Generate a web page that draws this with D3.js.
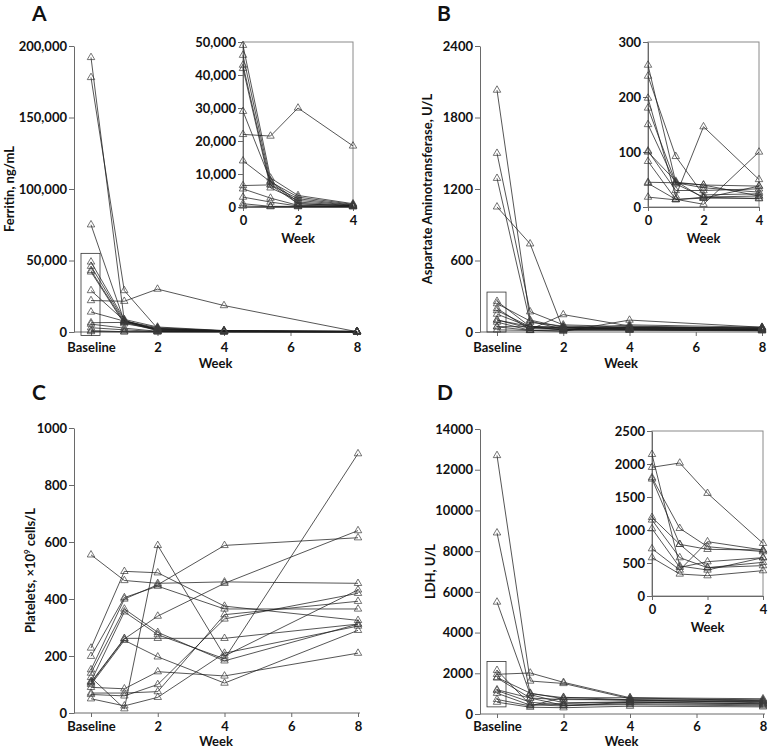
<!DOCTYPE html>
<html><head><meta charset="utf-8">
<script src="https://cdn.jsdelivr.net/npm/d3@7"></script>
<style>
body{margin:0;background:#fff}
svg{display:block}
text{font-family:Lato,"Open Sans","DejaVu Sans",sans-serif;font-weight:700;fill:#111}
</style>
</head><body>
<svg id="c" width="769" height="749"></svg>
<script>
// ---------- data ----------
const weeks = [0, 1, 2, 4, 8];
const insetWeeks = [0, 1, 2, 4];
const mainXTicks = [0, 2, 4, 6, 8];
const insetXTicks = [0, 2, 4];
const baselineLabel = "Baseline";
const weekLabel = "Week";

// Ferritin, ng/mL (per patient: baseline, wk1, wk2, wk4, wk8)
const ferritin = [
  [192000, 8000, 2000, 1000, 500],
  [178000, 29000, 2500, 800, 300],
  [75000, 7500, 1500, 500, 200],
  [49000, 8800, 3500, 1000, 500],
  [46000, 7600, 3000, 800, 400],
  [43000, 6700, 2500, 600, 300],
  [42000, 5800, 2000, 500, 200],
  [29000, 8000, 1500, 400, 200],
  [22000, 21500, 30000, 18500, 200],
  [14000, 7600, 1000, 300, 100],
  [6500, 6700, 1000, 400, 200],
  [5500, 2700, 500, 300, 100],
  [3000, 1500, 300, 200, 100],
  [1000, 200, 200, 100, 100],
  [300, 100, 100, 100, 50]
];
const ferritinTicks = [0, 50000, 100000, 150000, 200000];
const ferritinInsetTicks = [0, 10000, 20000, 30000, 40000, 50000];

// Aspartate aminotransferase, U/L
const ast = [
  [2030, 100, 40, 30, 20],
  [1500, 170, 60, 45, 30],
  [1290, 80, 50, 35, 25],
  [1050, 740, 20, 60, 40],
  [258, 45, 40, 20, 15],
  [238, 92, 22, 24, 20],
  [198, 20, 146, 50, 30],
  [180, 44, 35, 27, 20],
  [150, 42, 18, 20, 15],
  [102, 30, 30, 33, 25],
  [100, 47, 16, 38, 35],
  [83, 14, 5, 100, 40],
  [45, 44, 40, 38, 35],
  [43, 14, 16, 16, 12],
  [18, 13, 18, 15, 10]
];
const astTicks = [0, 600, 1200, 1800, 2400];
const astInsetTicks = [0, 100, 200, 300];

// Platelets, x10^9 cells/L
const platelets = [
  [555, 465, 455, 460, 455],
  [228, 497, 492, 375, 325],
  [199, 405, 445, 365, 365],
  [152, 400, 450, 588, 615],
  [140, 365, 283, 183, 312],
  [111, 355, 275, 190, 910],
  [105, 260, 340, 455, 640],
  [100, 255, 197, 105, 290],
  [90, 85, 145, 130, 210],
  [70, 70, 75, 345, 392],
  [65, 60, 100, 330, 420],
  [50, 25, 55, 210, 305],
  [125, 15, 588, 200, 432],
  [108, 262, 262, 262, 312]
];
const plateletTicks = [0, 200, 400, 600, 800, 1000];

// LDH, U/L
const ldh = [
  [12700, 1620, 1500, 750, 700],
  [8900, 1000, 800, 800, 750],
  [5500, 950, 550, 600, 600],
  [2146, 455, 394, 581, 500],
  [1950, 2015, 1556, 798, 650],
  [1793, 1025, 747, 672, 600],
  [1773, 783, 707, 697, 550],
  [1192, 783, 429, 510, 450],
  [1152, 581, 429, 460, 400],
  [1020, 434, 520, 581, 500],
  [717, 394, 823, 697, 650],
  [581, 333, 308, 384, 350]
];
const ldhTicks = [0, 2000, 4000, 6000, 8000, 10000, 12000, 14000];
const ldhInsetTicks = [0, 500, 1000, 1500, 2000, 2500];

// ---------- drawing ----------
const svg = d3.select("#c");
const comma = d3.format(",");
const plain = d3.format("d");
const AX = "#6a6a6a", BOX = "#8a8a8a", LINE = "#1e1e1e", MARK = "#3a3a3a";

function styleAxis(sel, fs) {
  sel.selectAll(".domain").attr("stroke", AX).attr("stroke-width", 1);
  sel.selectAll(".tick line").attr("stroke", AX);
  sel.selectAll(".tick text").attr("font-size", fs).attr("font-family", "Lato, 'Open Sans', sans-serif").attr("font-weight", 700).attr("fill", "#111");
}

function drawSeries(g, x, y, data, wks) {
  const line = d3.line().defined(d => d[1] != null).x(d => x(d[0])).y(d => y(d[1]));
  data.forEach(s => {
    const pts = wks.map((w, i) => [w, s[i]]);
    g.append("path").attr("d", line(pts)).attr("fill", "none").attr("stroke", LINE).attr("stroke-width", 0.75);
  });
  const sym = d3.symbol().type(d3.symbolTriangle).size(24);
  data.forEach(s => {
    wks.forEach((w, i) => {
      if (s[i] == null) return;
      g.append("path").attr("d", sym()).attr("transform", `translate(${x(w)},${y(s[i])})`)
        .attr("fill", "none").attr("stroke", MARK).attr("stroke-width", 0.7);
    });
  });
}

function drawPanel(p) {
  const g = svg.append("g");
  const x = d3.scaleLinear().domain([0, 8]).range([p.x0, p.x8]);
  const y = d3.scaleLinear().domain([0, p.max]).range([p.yBot, p.yTop]);

  g.append("text").attr("x", p.lx).attr("y", p.ly).attr("font-size", 21).text(p.letter);

  const ya = g.append("g").attr("transform", `translate(${p.axisX},0)`)
    .call(d3.axisLeft(y).tickValues(p.ticks).tickFormat(p.fmt).tickSize(5).tickPadding(2).tickSizeOuter(0));
  styleAxis(ya, 13);

  const xa = g.append("g").attr("transform", `translate(0,${p.yBot})`)
    .call(d3.axisBottom(x).tickValues(mainXTicks).tickFormat(d => d === 0 ? baselineLabel : d).tickSize(4).tickPadding(p.tickPad).tickSizeOuter(0));
  xa.select(".domain").remove();
  styleAxis(xa, 13);
  g.append("line").attr("x1", p.axisX).attr("x2", x(8) + 2).attr("y1", p.yBot).attr("y2", p.yBot)
    .attr("stroke", AX).attr("stroke-width", 1);

  g.append("text").attr("x", (p.axisX + x(8)) / 2).attr("y", p.yBot + p.weekOff).attr("text-anchor", "middle").attr("font-size", 13).text(weekLabel);

  const t = g.append("text").attr("transform", `translate(${p.titleX},${(p.yTop + p.yBot) / 2}) rotate(-90)`)
    .attr("text-anchor", "middle").attr("dy", "0.35em").attr("font-size", 13);
  if (p.titleParts) {
    t.append("tspan").text(p.titleParts[0]);
    t.append("tspan").attr("font-size", 8).attr("dy", -5).text(p.titleParts[1]);
    t.append("tspan").attr("dy", 5).text(p.titleParts[2]);
  } else t.text(p.title);

  // small box around baseline points covered by inset
  if (p.box) {
    g.append("rect").attr("x", x(0) - 10).attr("width", 19)
      .attr("y", y(p.box[1])).attr("height", y(p.box[0]) - y(p.box[1]))
      .attr("fill", "none").attr("stroke", "#333").attr("stroke-width", 0.8);
  }

  drawSeries(g, x, y, p.data, weeks);

  if (p.inset) drawInset(p.inset, p.data, p.fmt);
}

function drawInset(q, data, fmt) {
  const g = svg.append("g");
  const x = d3.scaleLinear().domain([0, 4]).range([q.axisX, q.xEnd]);
  const y = d3.scaleLinear().domain([0, q.max]).range([q.yBot, q.yTop]);
  g.append("rect").attr("x", q.axisX).attr("y", q.yTop).attr("width", q.xEnd - q.axisX).attr("height", q.yBot - q.yTop)
    .attr("fill", "#fff").attr("stroke", BOX).attr("stroke-width", 1);
  const ya = g.append("g").attr("transform", `translate(${q.axisX},0)`)
    .call(d3.axisLeft(y).tickValues(q.ticks).tickFormat(fmt).tickSize(5).tickPadding(2).tickSizeOuter(0));
  styleAxis(ya, 13);
  const xa = g.append("g").attr("transform", `translate(0,${q.yBot})`)
    .call(d3.axisBottom(x).tickValues(insetXTicks).tickFormat(plain).tickSize(4).tickPadding(5).tickSizeOuter(0));
  styleAxis(xa, 13);
  g.append("text").attr("x", (q.axisX + q.xEnd) / 2).attr("y", q.yBot + 36).attr("text-anchor", "middle").attr("font-size", 13).text(weekLabel);
  const sub = data.filter(s => s[0] <= q.max);
  drawSeries(g, x, y, sub, insetWeeks);
}

drawPanel({letter: "A", lx: 32, ly: 21, title: "Ferritin, ng/mL", titleX: 9,
  axisX: 74, x0: 91, x8: 357, yTop: 46, yBot: 332, max: 200000, ticks: ferritinTicks, fmt: comma,
  tickPad: 7, weekOff: 36,
  data: ferritin, box: [-2500, 55000],
  inset: {axisX: 243, xEnd: 353, yTop: 42, yBot: 207, max: 50000, ticks: ferritinInsetTicks}});

drawPanel({letter: "B", lx: 437, ly: 21, title: "Aspartate Aminotransferase, U/L", titleX: 427,
  axisX: 480, x0: 497, x8: 762, yTop: 46, yBot: 332, max: 2400, ticks: astTicks, fmt: plain,
  tickPad: 7, weekOff: 36,
  data: ast, box: [0, 335],
  inset: {axisX: 648, xEnd: 759, yTop: 42, yBot: 207, max: 300, ticks: astInsetTicks}});

drawPanel({letter: "C", lx: 32, ly: 400, titleParts: ["Platelets, \u00d710", "9", " cells/L"], titleX: 30,
  axisX: 74, x0: 91, x8: 358, yTop: 428, yBot: 713, max: 1000, ticks: plateletTicks, fmt: plain,
  tickPad: 5, weekOff: 33,
  data: platelets});

drawPanel({letter: "D", lx: 437, ly: 400, title: "LDH, U/L", titleX: 430,
  axisX: 480, x0: 497, x8: 763, yTop: 429, yBot: 714, max: 14000, ticks: ldhTicks, fmt: plain,
  tickPad: 4, weekOff: 32,
  data: ldh, box: [350, 2580],
  inset: {axisX: 652, xEnd: 763, yTop: 431, yBot: 596, max: 2500, ticks: ldhInsetTicks}});
</script>
</body></html>
